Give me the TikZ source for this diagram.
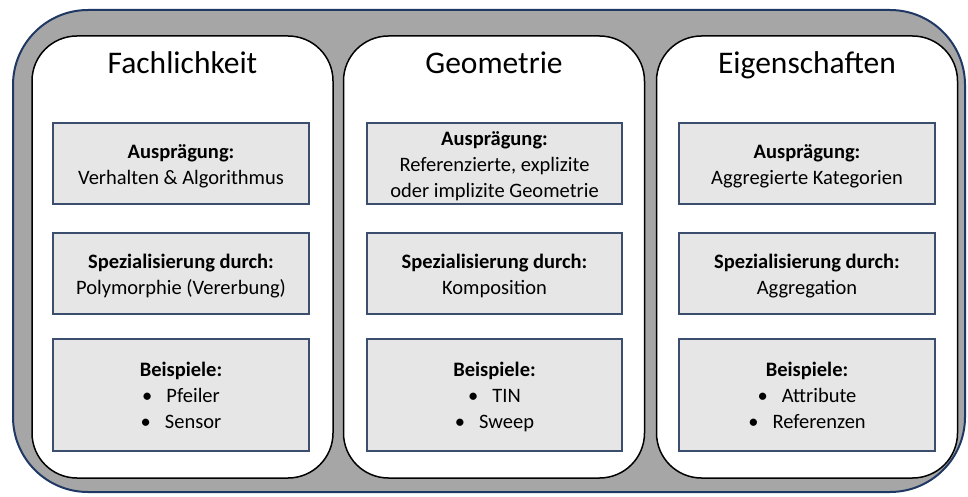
\documentclass[tikz,border=0pt]{standalone}
\usepackage{fontspec}
\setmainfont{Carlito}
\definecolor{outerfill}{HTML}{A6A6A6}
\definecolor{outerline}{HTML}{1F3864}
\definecolor{boxfill}{HTML}{E7E6E6}
\definecolor{boxline}{HTML}{3B4E6E}
\tikzset{
  outerbox/.style={draw=outerline, fill=outerfill, line width=2pt, rounded corners=75pt},
  panel/.style={draw=black, fill=white, line width=1.5pt, rounded corners=45pt,
    minimum width=301pt, minimum height=442pt, inner sep=0pt},
  paneltitle/.style={font=\fontsize{31.5}{36}\selectfont, inner sep=0pt, text=black, anchor=base},
  infobox/.style={draw=boxline, fill=boxfill, line width=1.4pt, minimum width=256pt,
    minimum height=81pt, inner sep=0pt},
  tallbox/.style={infobox, minimum height=112pt},
  boxtext/.style={inner sep=0pt, align=center, yshift=-2.5pt,
    font=\fontsize{20.5}{26}\selectfont, text=black}
}
\newcommand{\bul}[1]{\textbullet\hspace{14pt}#1}
\begin{document}
\begin{tikzpicture}[x=1pt,y=-1pt]
\useasboundingbox (0,0) rectangle (968,497);
\draw[outerbox] (13,10) rectangle (965,492);
% panels
\node[panel] (p1) at (182.5,257) {};
\node[panel] (p2) at (494,257) {};
\node[panel] (p3) at (807,257) {};
% titles
\node[paneltitle] (t1) at (182.5,74) {Fachlichkeit};
\node[paneltitle] (t2) at (494,74) {Geometrie};
\node[paneltitle] (t3) at (807,74) {Eigenschaften};
% row 1
\node[infobox] (a1) at (181,163.5) {};
\node[infobox, minimum width=255pt] (a2) at (494.5,163.5) {};
\node[infobox] (a3) at (807,163.5) {};
\node[boxtext] (a1t) at (a1.center) {\strut\textbf{Ausprägung:}\\Verhalten \& Algorithmus\strut};
\node[boxtext] (a2t) at (a2.center) {\strut\textbf{Ausprägung:}\\Referenzierte, explizite\\oder implizite Geometrie\strut};
\node[boxtext] (a3t) at (a3.center) {\strut\textbf{Ausprägung:}\\Aggregierte Kategorien\strut};
% row 2
\node[infobox] (s1) at (181,273.5) {};
\node[infobox, minimum width=255pt] (s2) at (494.5,273.5) {};
\node[infobox] (s3) at (807,273.5) {};
\node[boxtext] (s1t) at (s1.center) {\strut\textbf{Spezialisierung durch:}\\Polymorphie (Vererbung)\strut};
\node[boxtext] (s2t) at (s2.center) {\strut\textbf{Spezialisierung durch:}\\Komposition\strut};
\node[boxtext] (s3t) at (s3.center) {\strut\textbf{Spezialisierung durch:}\\Aggregation\strut};
% row 3
\node[tallbox] (b1) at (181,395) {};
\node[tallbox, minimum width=255pt] (b2) at (494.5,395) {};
\node[tallbox] (b3) at (807,395) {};
\node[boxtext] (b1t) at (b1.center) {\strut\textbf{Beispiele:}\\\bul{Pfeiler}\\\bul{Sensor}\strut};
\node[boxtext] (b2t) at (b2.center) {\strut\textbf{Beispiele:}\\\bul{TIN}\\\bul{Sweep}\strut};
\node[boxtext] (b3t) at (b3.center) {\strut\textbf{Beispiele:}\\\bul{Attribute}\\\bul{Referenzen}\strut};
\end{tikzpicture}
\end{document}
